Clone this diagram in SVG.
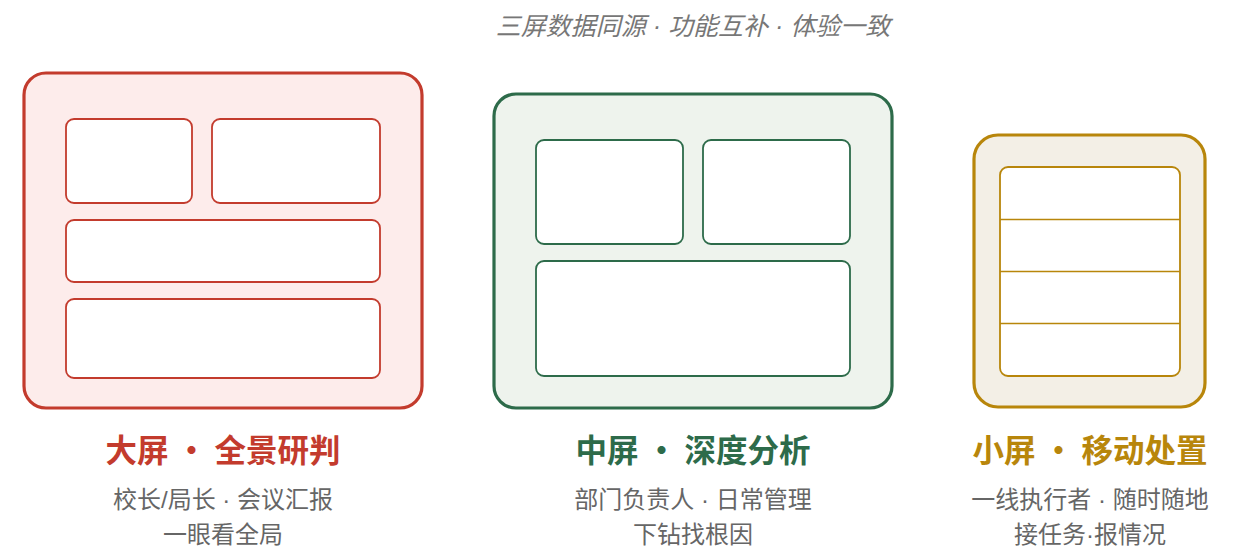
<svg xmlns="http://www.w3.org/2000/svg" width="1238" height="558" viewBox="0 0 1238 558">
<style>
.t{font-family:"Noto Sans CJK SC","Liberation Sans",sans-serif;text-anchor:middle}
.l{font-family:"Liberation Sans","Noto Sans CJK SC",sans-serif;text-anchor:middle}
.title{font-size:25px;font-style:italic;fill:#777}
.h{font-size:31.5px;font-weight:bold}
.s{font-size:24px;fill:#666}
.inner{fill:#fff;stroke-width:1.8}
.outer{stroke-width:3.2}
</style>
<rect width="1238" height="558" fill="#fff"/>
<text class="l title" x="693" y="35">三屏数据同源 · 功能互补 · 体验一致</text>
<g id="big">
<rect class="outer" x="24" y="73" width="398" height="335" rx="22" fill="#fdeceb" stroke="#c33b2d"/>
<g stroke="#c33b2d"><rect class="inner" x="66" y="119" width="126" height="84" rx="8"/>
<rect class="inner" x="212" y="119" width="168" height="84" rx="8"/>
<rect class="inner" x="66" y="220" width="314" height="62" rx="8"/>
<rect class="inner" x="66" y="299" width="314" height="79" rx="8"/></g>
<text class="t h" x="223" y="462" fill="#c33b2d">大屏 · 全景研判</text>
<text class="l s" x="223" y="508">校长/局长 · 会议汇报</text>
<text class="l s" x="223" y="543">一眼看全局</text>
</g>
<g id="mid">
<rect class="outer" x="494" y="94" width="398" height="314" rx="22" fill="#eef3ed" stroke="#2d6b4a"/>
<g stroke="#2d6b4a"><rect class="inner" x="536" y="140" width="147" height="104" rx="8"/>
<rect class="inner" x="703" y="140" width="147" height="104" rx="8"/>
<rect class="inner" x="536" y="261" width="314" height="115" rx="8"/></g>
<text class="t h" x="693" y="462" fill="#2d6b4a">中屏 · 深度分析</text>
<text class="l s" x="693" y="508">部门负责人 · 日常管理</text>
<text class="l s" x="693" y="543">下钻找根因</text>
</g>
<g id="small">
<rect class="outer" x="974" y="135" width="231" height="272" rx="24" fill="#f3efe6" stroke="#b8860b"/>
<g stroke="#b8860b"><rect class="inner" x="1000" y="167" width="180" height="209" rx="8"/>
<line x1="1000" y1="219.5" x2="1180" y2="219.5" stroke-width="1.6"/>
<line x1="1000" y1="271.5" x2="1180" y2="271.5" stroke-width="1.6"/>
<line x1="1000" y1="323.5" x2="1180" y2="323.5" stroke-width="1.6"/></g>
<text class="t h" x="1090" y="462" fill="#b8860b">小屏 · 移动处置</text>
<text class="l s" x="1090" y="508">一线执行者 · 随时随地</text>
<text class="l s" x="1090" y="543">接任务·报情况</text>
</g>
</svg>
